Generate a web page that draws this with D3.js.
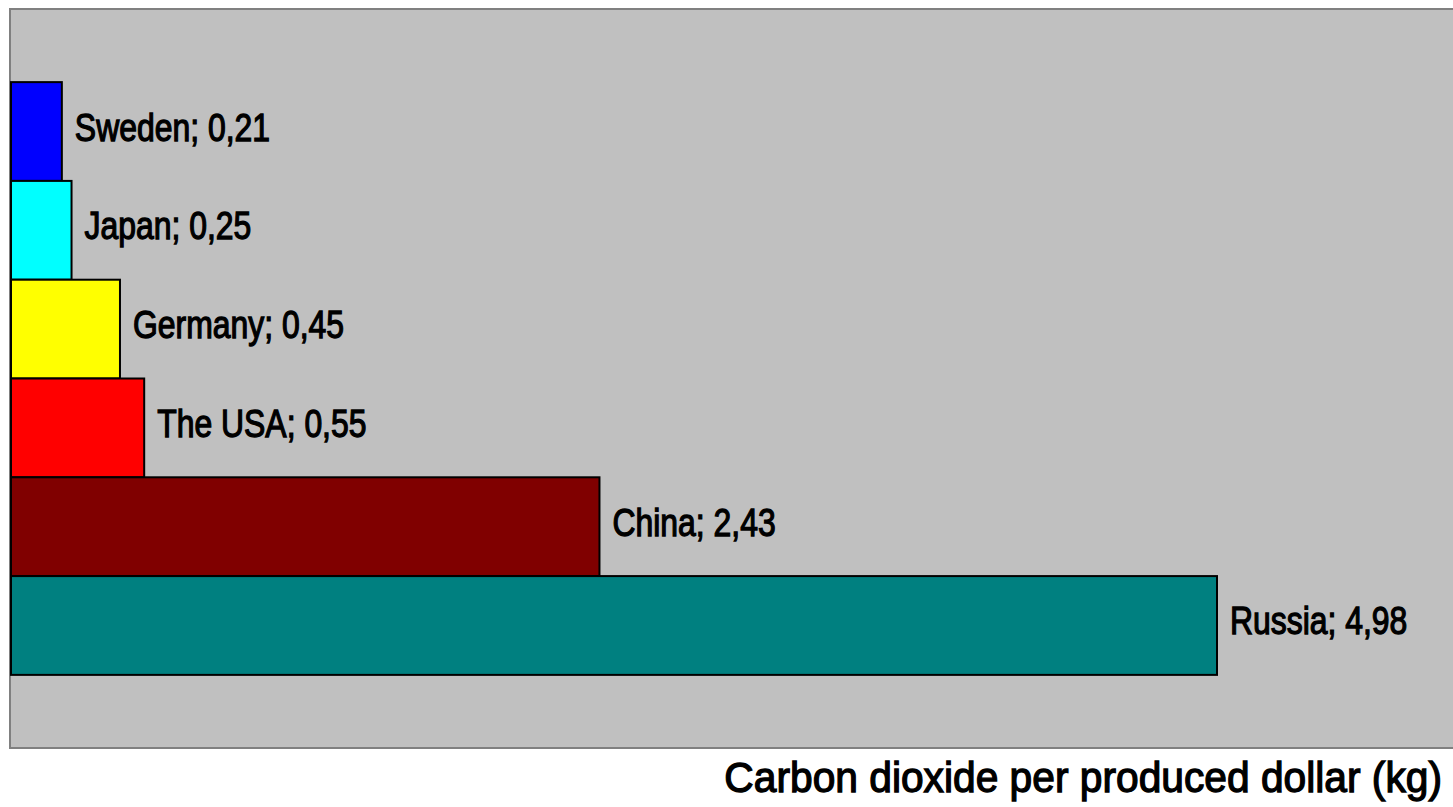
<!DOCTYPE html>
<html>
<head>
<meta charset="utf-8">
<script src="https://cdn.jsdelivr.net/npm/d3@7"></script>
<style>
  body { margin: 0; background: #fff; }
  text { font-family: "Liberation Sans Narrow", "Liberation Sans", Arial, sans-serif; stroke: #000; stroke-width: 1.3px; }
</style>
</head>
<body>
<div id="container"></div>
<script>
var countries = ["Sweden", "Japan", "Germany", "The USA", "China", "Russia"];
var values = [0.21, 0.25, 0.45, 0.55, 2.43, 4.98];
var colors = ["#0000ff", "#00ffff", "#ffff00", "#ff0000", "#800000", "#008080"];
var axisTitle = "Carbon dioxide per produced dollar (kg)";

var width = 1453, height = 807;
var narrow = 0.84; // squeeze labels to look like a narrow face

var svg = d3.select("#container").append("svg")
  .attr("width", width).attr("height", height);

// plot area
svg.append("rect")
  .attr("x", 10).attr("y", 9)
  .attr("width", width + 10).attr("height", 739)
  .attr("fill", "#c0c0c0")
  .attr("stroke", "#808080").attr("stroke-width", 2);

var x = d3.scaleLinear().domain([0, 4.98]).range([11, 1217]);
var y = d3.scaleBand().domain(countries).range([10, 747])
  .paddingInner(0).paddingOuter(0.73);

var data = countries.map(function(c, i) { return { name: c, value: values[i], color: colors[i] }; });

svg.append("g").selectAll("rect").data(data)
  .join("rect")
  .attr("x", x(0))
  .attr("y", d => y(d.name))
  .attr("width", d => x(d.value) - x(0))
  .attr("height", y.bandwidth())
  .attr("fill", d => d.color)
  .attr("stroke", "#000").attr("stroke-width", 2);

svg.append("g").selectAll("text").data(data)
  .join("text")
  .attr("transform", d => "translate(" + (x(d.value) + 13) + "," + (y(d.name) + y.bandwidth() / 2 + 9) + ") scale(" + narrow + ",1)")
  .attr("font-size", 38)
  .attr("fill", "#000")
  .text(d => d.name + "; " + d.value.toFixed(2).replace(".", ","));

svg.append("text")
  .attr("transform", "translate(1442,792) scale(0.97,1)")
  .attr("text-anchor", "end")
  .attr("font-size", 42)
  .attr("fill", "#000")
  .text(axisTitle);
</script>
</body>
</html>
